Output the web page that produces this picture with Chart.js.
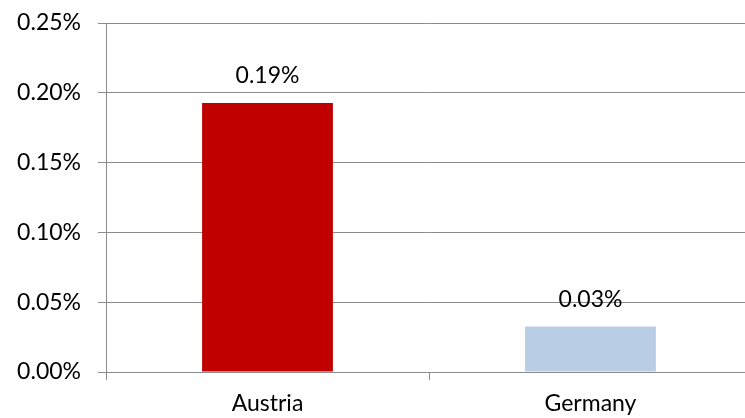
<!DOCTYPE html>
<html>
<head>
<meta charset="utf-8">
<script src="https://cdn.jsdelivr.net/npm/chart.js@4"></script>
<style>
  html, body { margin: 0; padding: 0; background: #fff; overflow: hidden; }
  /* Excel's plot area runs a few pixels past the right edge, so the canvas is wider than the window */
  #wrap { width: 745px; height: 418px; overflow: hidden; }
</style>
</head>
<body>
<div id="wrap"><canvas id="chart" width="752" height="418"></canvas></div>
<script>
var countries = ['Austria', 'Germany'];
var shares = [0.1927, 0.0326]; // percent
var barColors = ['#C00000', '#B9CDE5'];
var yTicks = [0, 0.05, 0.10, 0.15, 0.20, 0.25];

var lineGray = '#8C8C8C';
var font = { family: 'Lato, "Open Sans", sans-serif', size: 23 };

// value labels above each bar, Excel style
var valueLabels = {
    id: 'valueLabels',
    afterDatasetsDraw: function (chart) {
        var ctx = chart.ctx;
        var meta = chart.getDatasetMeta(0);
        ctx.save();
        ctx.fillStyle = '#000';
        ctx.font = font.size + 'px ' + font.family;
        ctx.textAlign = 'center';
        ctx.textBaseline = 'middle';
        meta.data.forEach(function (bar, i) {
            ctx.fillText(shares[i].toFixed(2) + '%', bar.x, bar.y - 27);
        });
        ctx.restore();
    }
};

Chart.defaults.animation = false;
Chart.defaults.color = '#000';
Chart.defaults.font.family = font.family;
Chart.defaults.font.size = font.size;

new Chart(document.getElementById('chart'), {
    type: 'bar',
    data: {
        labels: countries,
        datasets: [{ data: shares, backgroundColor: barColors, borderWidth: 0, categoryPercentage: 0.81, barPercentage: 0.5 }]
    },
    options: {
        responsive: false,
        layout: { padding: { top: 23, right: 0, bottom: 0, left: 0 } },
        plugins: { legend: { display: false }, tooltip: { enabled: false } },
        scales: {
            x: {
                grid: { drawOnChartArea: false, drawTicks: true, tickLength: 8, color: lineGray, offset: true },
                border: { color: lineGray, width: 1 },
                ticks: { padding: 10, font: font },
                afterFit: function (s) { s.height = 46; s.paddingLeft = 0; s.paddingRight = 0; }
            },
            y: {
                min: 0,
                max: 0.25,
                afterBuildTicks: function (s) { s.ticks = yTicks.map(function (v) { return { value: v }; }); },
                grid: { color: lineGray, tickLength: 8 },
                border: { color: lineGray, width: 1 },
                ticks: {
                    padding: 17,
                    font: font,
                    callback: function (v) { return v.toFixed(2) + '%'; }
                },
                afterFit: function (s) { s.width = 106; s.paddingTop = 0; s.paddingBottom = 0; }
            }
        }
    },
    plugins: [valueLabels]
});
</script>
</body>
</html>
